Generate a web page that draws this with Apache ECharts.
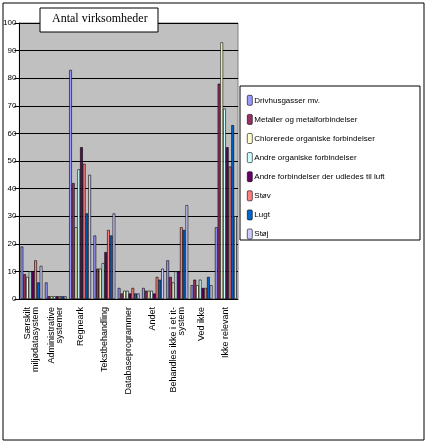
<!DOCTYPE html>
<html>
<head>
<meta charset="utf-8">
<script src="https://cdn.jsdelivr.net/npm/echarts@6/dist/echarts.min.js"></script>
<style>
html, body { margin: 0; padding: 0; background: #fff; }
#chart { width: 427px; height: 446px; }
</style>
</head>
<body>
<div id="chart"></div>
<script>
var categories = ['Særskilt\nmiljødatasystem', 'Administrative\nsystemer', 'Regneark', 'Tekstbehandling',
    'Databaseprogrammer', 'Andet', 'Behandles ikke i et it-\nsystem', 'Ved ikke', 'Ikke relevant'];
var seriesNames = ['Drivhusgasser mv.', 'Metaller og metalforbindelser', 'Chlorerede organiske forbindelser',
    'Andre organiske forbindelser', 'Andre forbindelser der udledes til luft', 'Støv', 'Lugt', 'Støj'];
var drivhus = [19, 6, 83, 23, 4, 4, 14, 5, 26];
var metaller = [9, 1, 42, 11, 2, 3, 8, 7, 78];
var chlor = [8, 1, 26, 11, 3, 3, 6, 5, 93];
var andreOrg = [10, 1, 47, 13, 3, 3, 10, 7, 69];
var andreForb = [10, 1, 55, 17, 2, 2, 10, 4, 55];
var stoev = [14, 1, 49, 25, 4, 8, 26, 4, 48];
var lugt = [6, 1, 31, 23, 2, 7, 25, 8, 63];
var stoej = [12, 1, 45, 31, 2, 11, 34, 5, 30];
var colors = ['#9999ff', '#993366', '#ffffcc', '#ccffff', '#660066', '#ff8080', '#0066cc', '#ccccff'];
var yTicks = [0, 10, 20, 30, 40, 50, 60, 70, 80, 90, 100];

var myChart = echarts.init(document.getElementById('chart'));
var allData = [drivhus, metaller, chlor, andreOrg, andreForb, stoev, lugt, stoej];
var series = [];
for (var i = 0; i < seriesNames.length; i++) {
    series.push({
        name: seriesNames[i],
        type: 'bar',
        data: allData[i],
        barGap: '0%',
        barCategoryGap: '10%',
        itemStyle: { color: colors[i], borderColor: '#000', borderWidth: 0.6 }
    });
}
var option = {
    animation: false,
    graphic: [
        { type: 'rect', shape: { x: 3, y: 3, width: 421, height: 437 }, style: { fill: 'none', stroke: '#000', lineWidth: 1 } },
        { type: 'rect', shape: { x: 40, y: 8, width: 118, height: 24 }, style: { fill: '#fff', stroke: '#000', lineWidth: 1 }, z: 10 },
        { type: 'text', left: 52, top: 13, style: { text: 'Antal virksomheder', font: '12px "Liberation Serif"', fill: '#000' }, z: 11 },
        { type: 'rect', shape: { x: 240, y: 86, width: 180, height: 154 }, style: { fill: '#fff', stroke: '#000', lineWidth: 1 }, z: 5 }
    ],
    legend: {
        orient: 'vertical',
        left: 242, top: 90,
        itemWidth: 5, itemHeight: 10, itemGap: 8.5,
        itemStyle: { borderColor: '#000', borderWidth: 0.6 },
        textStyle: { fontFamily: 'Liberation Sans', fontSize: 8, color: '#000', padding: [0, 0, 0, -3] },
        data: seriesNames,
        z: 6
    },
    grid: { left: 18, top: 23, width: 220, height: 276, backgroundColor: '#c0c0c0', show: true, borderColor: '#808080', borderWidth: 1 },
    xAxis: {
        type: 'category',
        data: categories,
        axisLine: { lineStyle: { color: '#000' } },
        axisTick: { lineStyle: { color: '#000' } },
        axisLabel: { rotate: 90, interval: 0, color: '#000', fontFamily: 'Liberation Sans', fontSize: 9, lineHeight: 8 }
    },
    yAxis: {
        type: 'value', min: yTicks[0], max: yTicks[yTicks.length - 1], interval: 10,
        axisLine: { show: true, lineStyle: { color: '#000' } },
        axisTick: { show: true, lineStyle: { color: '#000' } },
        axisLabel: { color: '#000', fontFamily: 'Liberation Sans', fontSize: 8, margin: 3 },
        splitLine: { lineStyle: { color: '#000', width: 1 } }
    },
    series: series
};
myChart.setOption(option);
</script>
</body>
</html>
